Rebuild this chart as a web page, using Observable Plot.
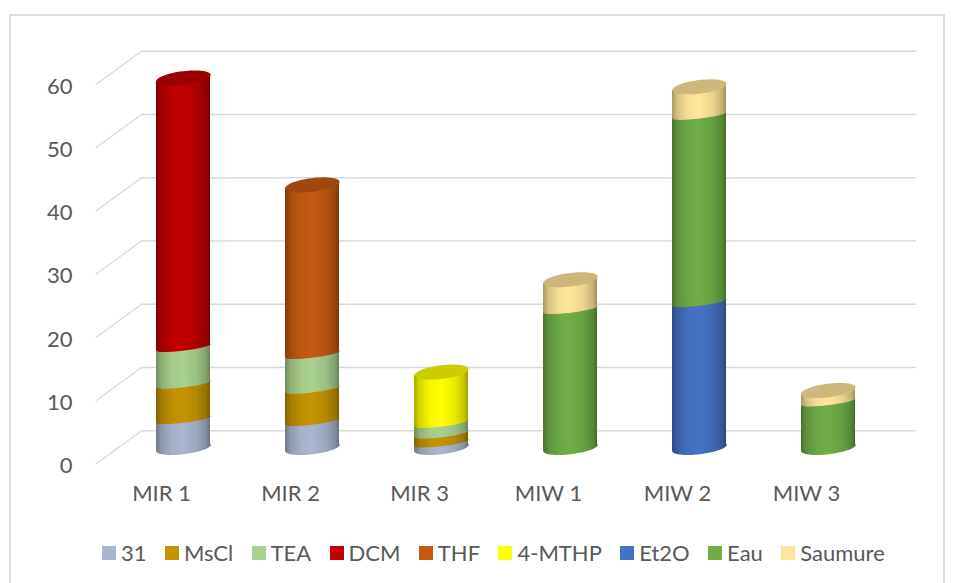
<!DOCTYPE html>
<html>
<head>
<meta charset="utf-8">
<style>
  html,body{margin:0;padding:0;background:#fff;}
  #page{position:relative;width:957px;height:583px;overflow:hidden;font-family:Lato,sans-serif;color:#595959;}
  #frame{position:absolute;left:9px;top:14px;width:936px;height:590px;border:2px solid #dcdcdc;box-sizing:border-box;}
  #chart{position:absolute;left:0;top:0;}
  #legend{position:absolute;left:102px;top:539px;display:flex;gap:18.4px;font-size:22px;line-height:28px;white-space:nowrap;}
  #legend .item{display:flex;align-items:center;gap:5px;}
  #legend .sw{display:inline-block;width:14px;height:14px;}
</style>
<script src="https://cdn.jsdelivr.net/npm/d3@7"></script>
<script src="https://cdn.jsdelivr.net/npm/@observablehq/plot@0.6"></script>
</head>
<body>
<div id="page"><div id="frame"></div><div id="chart"></div><div id="legend"></div></div>
<script>
const categories = ["MIR 1","MIR 2","MIR 3","MIW 1","MIW 2","MIW 3"];
const seriesNames = ["31","MsCl","TEA","DCM","THF","4-MTHP","Et2O","Eau","Saumure"];
const v31     = [4.5, 4.2, 0.8, 0, 0, 0];
const vMsCl   = [5.6, 5.1, 1.4, 0, 0, 0];
const vTEA    = [5.8, 5.5, 1.7, 0, 0, 0];
const vDCM    = [42.6, 0, 0, 0, 0, 0];
const vTHF    = [0, 26.8, 0, 0, 0, 0];
const v4MTHP  = [0, 0, 8.1, 0, 0, 0];
const vEt2O   = [0, 0, 0, 0, 23, 0];
const vEau    = [0, 0, 0, 21.9, 29.6, 7.3];
const vSaumure= [0, 0, 0, 4.7, 4.5, 1.8];
const allValues = [v31,vMsCl,vTEA,vDCM,vTHF,v4MTHP,vEt2O,vEau,vSaumure];
const baseColors = ["#A9B6CE","#C49400","#A9D18E","#C00000","#C55A11","#FFFF00","#4472C4","#70AD47","#FFE699"];
const yTicks = [0,10,20,30,40,50,60];

const rows = [];
seriesNames.forEach((s,i)=>categories.forEach((c,j)=>{
  if(allValues[i][j]>0) rows.push({category:c,series:s,value:allValues[i][j]});
}));
const stacks = categories.map(c=>{
  const own = rows.filter(r=>r.category===c);
  return {category:c,zero:0,total:d3.sum(own,r=>r.value),first:own[0].series,last:own[own.length-1].series};
});

function shade(col,k){const c=d3.rgb(col);return d3.rgb(c.r*k,c.g*k,c.b*k).formatHex();}
const gradId = i=>"cyl"+i;
const gradUrl = s=>`url(#${gradId(seriesNames.indexOf(s))})`;

const tiltDeg = -7;
const tilted = (rx,ry)=>({draw(ctx){
  const t=tiltDeg*Math.PI/180, n=60;
  for(let k=0;k<=n;k++){
    const a=k/n*2*Math.PI, ex=rx*Math.cos(a), ey=ry*Math.sin(a);
    const px=ex*Math.cos(t)-ey*Math.sin(t), py=ex*Math.sin(t)+ey*Math.cos(t);
    k?ctx.lineTo(px,py):ctx.moveTo(px,py);
  }
  ctx.closePath();
}});
const capShape = tilted(27.3,6.8), baseShape = tilted(27.3,6.2), sectionShape = tilted(27.3,3.2);
const wallEdge = {draw(ctx){ctx.moveTo(0,0);ctx.lineTo(-46,33.5);}};

const depth = 17.3;
const common = {x:"category",y:"value",z:"series",fill:"series"};
const plot = Plot.plot({
  width:957,height:530,
  marginLeft:141,marginRight:41,marginTop:0,marginBottom:60,
  style:{background:"transparent",fontFamily:'Lato,sans-serif',fontSize:"22px",color:"#595959",overflow:"visible"},
  x:{domain:categories,range:[117.8,893],paddingInner:0.582,paddingOuter:0.291,label:null},
  y:{domain:[0,60],range:[447.5,68],label:null},
  color:{domain:seriesNames,range:seriesNames.map(s=>gradUrl(s))},
  marks:[
    Plot.ruleY(yTicks,{stroke:"#d9d9d9",strokeWidth:1.5,dy:-depth}),
    Plot.dot(yTicks,{y:d=>d,frameAnchor:"left",symbol:wallEdge,fill:"none",stroke:"#d9d9d9",strokeWidth:1.2,dy:-depth}),
    Plot.axisY({ticks:yTicks,anchor:"left",tickSize:0,tickPadding:69,dy:18,label:null,fill:"#595959",fontSize:22}),
    Plot.axisX({anchor:"bottom",tickSize:0,tickPadding:15,dx:-22,label:null,fill:"#595959",fontSize:22}),
    Plot.barY(rows,Plot.stackY(common)),
    ...stacks.map(t=>Plot.dot([t],{x:"category",y:"zero",symbol:baseShape,stroke:"none",fill:gradUrl(t.first)})),
    Plot.dot(rows,Plot.stackY1({...common,symbol:sectionShape,stroke:"none"})),
    ...stacks.map(t=>Plot.dot([t],{x:"category",y:"total",symbol:capShape,stroke:"none",
      fill:shade(baseColors[seriesNames.indexOf(t.last)],0.8)}))
  ]
});

// lean each bar's top and bottom edge with the cylinder's tilt
const tanTilt = Math.tan(-tiltDeg*Math.PI/180);
plot.querySelectorAll('g[aria-label="bar"] rect').forEach(r=>{
  const cx=+r.getAttribute("x")+(+r.getAttribute("width"))/2;
  r.setAttribute("transform",`translate(0,${cx*tanTilt}) skewY(${tiltDeg})`);
});

const SVGNS="http://www.w3.org/2000/svg";
const defs=document.createElementNS(SVGNS,"defs");
baseColors.forEach((col,i)=>{
  const g=document.createElementNS(SVGNS,"linearGradient");
  g.setAttribute("id",gradId(i));
  [[0,.66],[.1,.84],[.3,.97],[.5,1],[.75,.92],[.92,.78],[1,.62]].forEach(([o,k])=>{
    const st=document.createElementNS(SVGNS,"stop");
    st.setAttribute("offset",o);st.setAttribute("stop-color",shade(col,k));g.appendChild(st);
  });
  defs.appendChild(g);
});
plot.insertBefore(defs,plot.firstChild);
document.getElementById("chart").appendChild(plot);

const legend=document.getElementById("legend");
seriesNames.forEach((s,i)=>{
  const it=document.createElement("span");it.className="item";
  const sw=document.createElement("span");sw.className="sw";sw.style.background=baseColors[i];
  const tx=document.createElement("span");tx.textContent=s;
  it.append(sw,tx);legend.appendChild(it);
});
</script>
</body>
</html>
